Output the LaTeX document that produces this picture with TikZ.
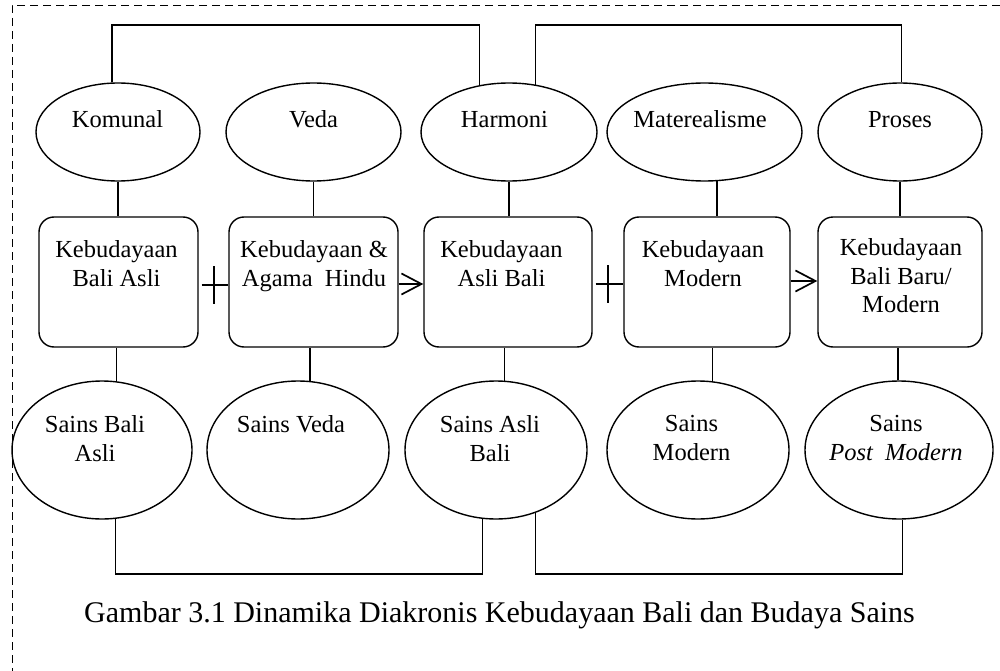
\documentclass[tikz,border=0pt]{standalone}
\usepackage{fontspec}
\setmainfont{Liberation Serif}
\usetikzlibrary{shapes.geometric,arrows.meta}
\begin{document}
\begin{tikzpicture}[x=1pt,y=-1pt,
  line width=1.4pt,
  oval/.style={ellipse, draw, inner sep=0pt},
  kotak/.style={draw, rounded corners=15pt, inner sep=0pt, minimum height=130pt},
  teks/.style={inner sep=0pt, align=center, font=\fontsize{24.5}{28.5}\selectfont, anchor=north},
  teksb/.style={inner sep=0pt, font=\fontsize{24.5}{28.5}\selectfont, anchor=base},
  tanda/.style={line width=1.7pt},
  panah/.style={line width=1.7pt, -{Straight Barb[length=20pt,width=21pt]}},
  tepi/.style={line width=0.9pt, dash pattern=on 8pt off 5pt},
]
\useasboundingbox (0,0) rectangle (1000,671);
\draw[tepi] (1000,5) -- (12,5) -- (12,671);

% top ellipses
\node[oval, minimum width=164pt, minimum height=98pt] (K) at (118,132) {};
\node[oval, minimum width=175pt, minimum height=98pt] (V) at (313.5,132) {};
\node[oval, minimum width=176pt, minimum height=98pt] (H) at (509,132) {};
\node[oval, minimum width=195pt, minimum height=98pt] (M) at (704.5,132) {};
\node[oval, minimum width=164pt, minimum height=98pt] (P) at (900,132) {};
\node[teksb] (tK) at (117.5,128) {Komunal};
\node[teksb] (tV) at (313.5,128) {Veda};
\node[teksb] (tH) at (504.5,128) {Harmoni};
\node[teksb] (tM) at (700,128) {Materealisme};
\node[teksb] (tP) at (900,128) {Proses};

% boxes
\node[kotak, minimum width=159pt] (B1) at (118.5,282) {};
\node[kotak, minimum width=169pt] (B2) at (313.5,282) {};
\node[kotak, minimum width=168pt] (B3) at (508,282) {};
\node[kotak, minimum width=166pt] (B4) at (707,282) {};
\node[kotak, minimum width=164pt] (B5) at (900,282) {};
\node[teks] (tB1) at (116.5,240) {Kebudayaan\\Bali Asli};
\node[teks] (tB2) at (314,240) {Kebudayaan \&\\Agama\ \ Hindu};
\node[teks] (tB3) at (501.5,240) {Kebudayaan\\Asli Bali};
\node[teks] (tB4) at (703,240) {Kebudayaan\\Modern};
\node[teks] (tB5) at (901,238) {Kebudayaan\\Bali Baru/\\Modern};

% bottom ellipses
\node[oval, minimum width=180pt, minimum height=138pt] (S1) at (102,450) {};
\node[oval, minimum width=182pt, minimum height=138pt] (S2) at (298,450) {};
\node[oval, minimum width=182pt, minimum height=138pt] (S3) at (496,450) {};
\node[oval, minimum width=182pt, minimum height=138pt] (S4) at (698,450) {};
\node[oval, minimum width=188pt, minimum height=138pt] (S5) at (899,450) {};
\node[teks] (tS1) at (95,415) {Sains Bali\\Asli};
\node[teks] (tS2) at (291,415) {Sains Veda};
\node[teks] (tS3) at (490,415) {Sains Asli\\Bali};
\node[teks] (tS4) at (691.5,415) {Sains\\Modern};
\node[teks] (tS5) at (896,415) {Sains\\\textit{Post\ \ Modern}};

% caption
\node[inner sep=0pt, font=\fontsize{30}{34}\selectfont, anchor=base] (cap) at (499.5,622)
  {Gambar 3.1 Dinamika Diakronis Kebudayaan Bali dan Budaya Sains};

% vertical connectors top ellipse -> box
\draw (K.south) -- (K.south |- B1.north);
\draw (V.south) -- (V.south |- B2.north);
\draw (H.south) -- (H.south |- B3.north);
\draw (M.284) -- (M.284 |- B4.north);
\draw (P.south) -- (P.south |- B5.north);

% box -> bottom ellipse
\draw (S1.78) -- (S1.78 |- B1.south);
\draw (S2.80) -- (S2.80 |- B2.south);
\draw (S3.83) -- (S3.83 |- B3.south);
\draw (S4.78) -- (S4.78 |- B4.south);
\draw (S5.91) -- (S5.91 |- B5.south);

% brackets
\coordinate (atas) at (0,25);
\coordinate (bawah) at (0,574);
\draw (K.97) -- (K.97 |- atas) -| (H.122);
\draw (H.61) -- (H.61 |- atas) -| (P.88);
\draw (S1.281) -- (S1.281 |- bawah) -| (S3.259);
\draw (S3.302) -- (S3.302 |- bawah) -| (S5.273);

% plus signs and arrows between boxes
\draw[tanda] ([xshift=3pt,yshift=-3pt]B1.east) -- ([yshift=-3pt]B2.west);
\coordinate (p1) at (214,285);
\draw[tanda] ([yshift=19pt]p1) -- ([yshift=-19pt]p1);
\draw[panah] ([yshift=-2pt]B2.east) -- ([yshift=-2pt]B3.west);
\draw[tanda] ([xshift=3pt,yshift=-2pt]B3.east) -- ([yshift=-2pt]B4.west);
\coordinate (p2) at (608,284);
\draw[tanda] ([yshift=19pt]p2) -- ([yshift=-19pt]p2);
\draw[panah] ([yshift=1pt]B4.east) -- ([yshift=1pt]B5.west);
\end{tikzpicture}
\end{document}
